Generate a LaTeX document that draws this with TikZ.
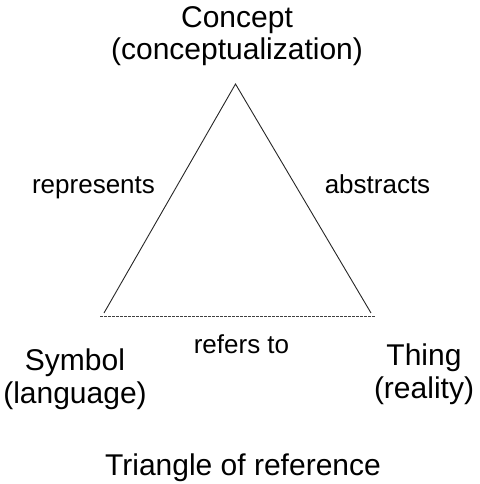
\documentclass[tikz,border=0pt]{standalone}
\usepackage{fontspec}
\setmainfont{Liberation Sans}
\begin{document}
\begin{tikzpicture}[x=1pt,y=-1pt,
  big/.style={font=\fontsize{30}{32.5}\selectfont, inner sep=0pt, align=center, anchor=base},
  lbl/.style={font=\fontsize{26}{30}\selectfont, inner sep=0pt, anchor=base},
  side/.style={line width=0.9pt, draw=black!85},
  ref/.style={line width=0.8pt, draw=black!75, dash pattern=on 2.5pt off 1.5pt}]
\useasboundingbox (0,0) rectangle (479,484);
% base anchor of a multi-line node = baseline of its last line
\node[big] (concept) at (237,60) {Concept\\(conceptualization)};
\node[big] (symbol) at (75,403) {Symbol\\(language)};
\node[big] (thing) at (424,398) {Thing\\(reality)};
\node[big] (title) at (243,475) {Triangle of reference};
\coordinate (apex) at (235.5,84);
\coordinate (bl) at (104,313);
\coordinate (br) at (371,313);
\coordinate (dl) at (100,316);
\coordinate (dr) at (375,316);
\draw[side] (bl) -- (apex) -- (br);
\draw[ref] (dl) -- (dr);
\node[lbl] (represents) at (93.5,193) {represents};
\node[lbl] (abstracts) at (377.5,193) {abstracts};
\node[lbl] (refers) at (241.5,353) {refers to};
\end{tikzpicture}
\end{document}
